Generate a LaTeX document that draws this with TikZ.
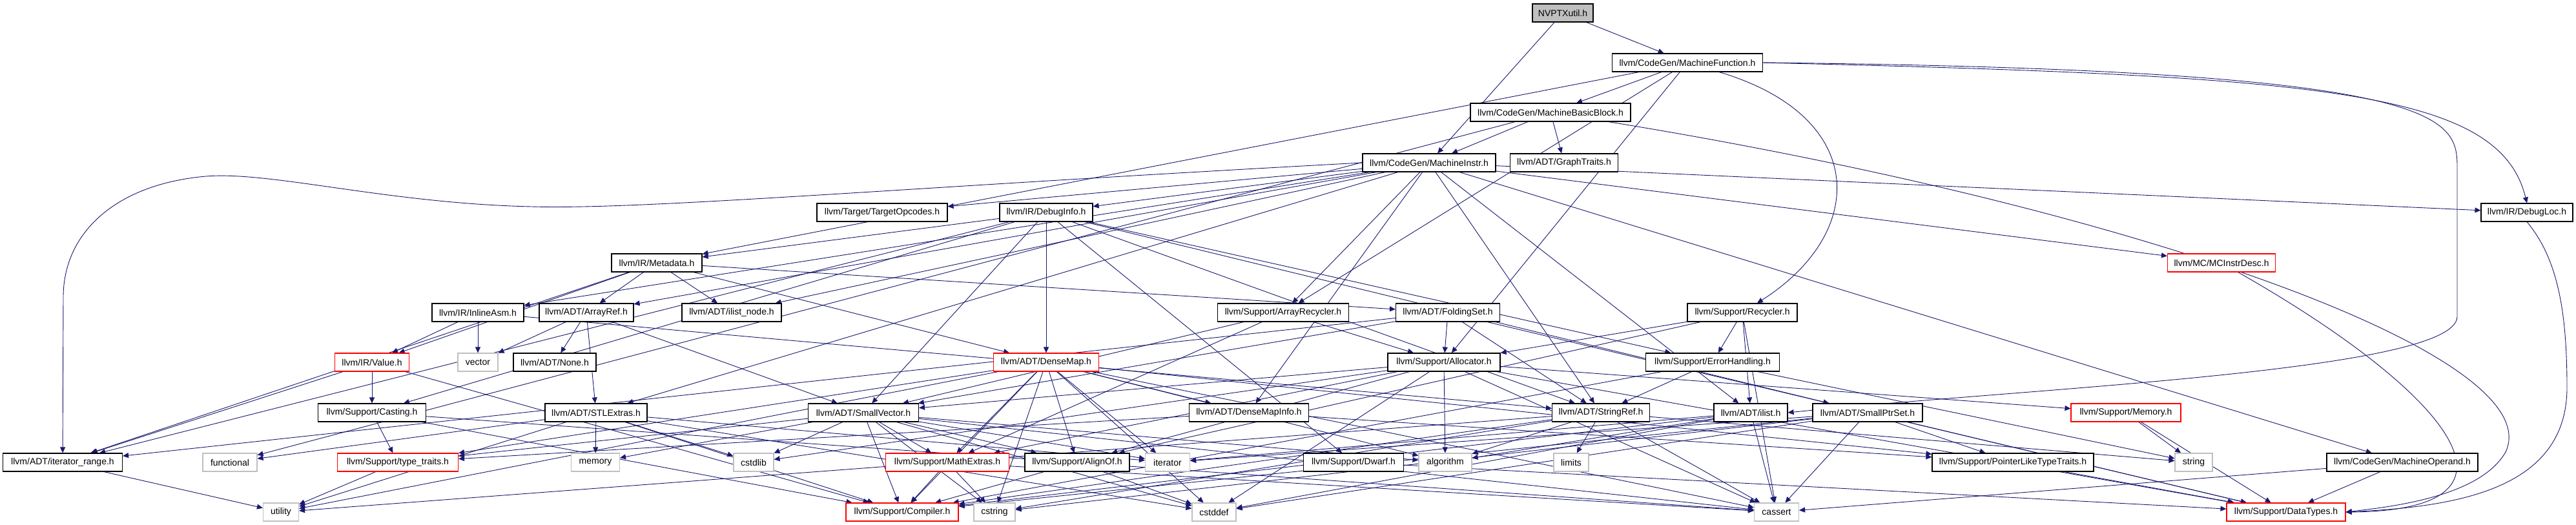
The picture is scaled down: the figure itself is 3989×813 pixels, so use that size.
\documentclass[tikz,border=0pt]{standalone}
\usepackage{fontspec}
\setmainfont{Liberation Sans}
\usetikzlibrary{arrows.meta,backgrounds}
\definecolor{dxedge}{HTML}{191970}
\definecolor{dxgrey}{HTML}{BFBFBF}
\definecolor{dxred}{HTML}{FF0000}
\tikzset{
  hdr/.style       = {draw=black, fill=white, line width=1.1pt, inner sep=0pt,
                      minimum height=28pt, font=\fontsize{14}{16}\selectfont},
  truncated/.style = {hdr, draw=dxred},
  sysinc/.style    = {hdr, draw=dxgrey},
  root/.style      = {hdr, fill=dxgrey},
  %
  incl/.style      = {-{Triangle[length=9pt,width=8pt]}, draw=dxedge,
                      line width=0.9pt},
}

\begin{document}
\begin{tikzpicture}[x=1pt, y=-1pt]
  \useasboundingbox (0,0) rectangle (3989,813);

  % ---- rank 0 .. 3 -------------------------------------------------------
  \node[root, minimum width=94]       (nvptx)       at (2420,20)  {NVPTXutil.h};
  \node[hdr, minimum width=233]       (mf)          at (2613,97)  {llvm/CodeGen/MachineFunction.h};
  \node[hdr, minimum width=248]       (mbb)         at (2401,174) {llvm/CodeGen/MachineBasicBlock.h};
  \node[hdr, minimum width=206]       (mi)          at (2213,252) {llvm/CodeGen/MachineInstr.h};
  \node[hdr, minimum width=167]       (graphtraits) at (2422,252) {llvm/ADT/GraphTraits.h};

  % ---- rank 4 .. 5 -------------------------------------------------------
  \node[hdr, minimum width=202]       (targetop)    at (1366,329) {llvm/Target/TargetOpcodes.h};
  \node[hdr, minimum width=144]       (debuginfo)   at (1620,329) {llvm/IR/DebugInfo.h};
  \node[hdr, minimum width=142]       (debugloc)    at (3913,329) {llvm/IR/DebugLoc.h};
  \node[hdr, minimum width=140]       (metadata)    at (1017,407) {llvm/IR/Metadata.h};
  \node[truncated, minimum width=167] (mcinstr)     at (3440,407) {llvm/MC/MCInstrDesc.h};

  % ---- rank 6 ------------------------------------------------------------
  \node[hdr, minimum width=142]       (inlineasm)   at (740,484)  {llvm/IR/InlineAsm.h};
  \node[hdr, minimum width=146]       (arrayref)    at (908,484)  {llvm/ADT/ArrayRef.h};
  \node[hdr, minimum width=154]       (ilistnode)   at (1133,484) {llvm/ADT/ilist\_node.h};
  \node[hdr, minimum width=203]       (arrayrec)    at (1987,484) {llvm/Support/ArrayRecycler.h};
  \node[hdr, minimum width=161]       (folding)     at (2242,484) {llvm/ADT/FoldingSet.h};
  \node[hdr, minimum width=170]       (recycler)    at (2698,484) {llvm/Support/Recycler.h};

  % ---- rank 7 ------------------------------------------------------------
  \node[truncated, minimum width=115] (value)       at (576,561)  {llvm/IR/Value.h};
  \node[sysinc, minimum width=62]     (vector)      at (740,561)  {vector};
  \node[hdr, minimum width=128]       (none)        at (859,561)  {llvm/ADT/None.h};
  \node[truncated, minimum width=163] (densemap)    at (1620,561) {llvm/ADT/DenseMap.h};
  \node[hdr, minimum width=174]       (allocator)   at (2236,561) {llvm/Support/Allocator.h};
  \node[hdr, minimum width=207]       (errorh)      at (2652,561) {llvm/Support/ErrorHandling.h};

  % ---- rank 8 ------------------------------------------------------------
  \node[hdr, minimum width=167]       (casting)     at (576,639)  {llvm/Support/Casting.h};
  \node[hdr, minimum width=158]       (stlextras)   at (923,639)  {llvm/ADT/STLExtras.h};
  \node[hdr, minimum width=171]       (smallvec)    at (1337,639) {llvm/ADT/SmallVector.h};
  \node[hdr, minimum width=185]       (densemapinfo) at (1934,639) {llvm/ADT/DenseMapInfo.h};
  \node[hdr, minimum width=151]       (stringref)   at (2479,639) {llvm/ADT/StringRef.h};
  \node[hdr, minimum width=114]       (ilist)       at (2711,639) {llvm/ADT/ilist.h};
  \node[hdr, minimum width=170]       (smallptr)    at (2892,639) {llvm/ADT/SmallPtrSet.h};
  \node[truncated, minimum width=170] (memoryh)     at (3292,639) {llvm/Support/Memory.h};

  % ---- rank 9 ------------------------------------------------------------
  \node[hdr, minimum width=185]       (iterrange)   at (97,716)   {llvm/ADT/iterator\_range.h};
  \node[sysinc, minimum width=84]     (functional)  at (356,716)  {functional};
  \node[truncated, minimum width=187] (typetraits)  at (616,716)  {llvm/Support/type\_traits.h};
  \node[sysinc, minimum width=75]     (memory)      at (922,716)  {memory};
  \node[sysinc, minimum width=62]     (cstdlib)     at (1167,716) {cstdlib};
  \node[truncated, minimum width=191] (mathext)     at (1467,716) {llvm/Support/MathExtras.h};
  \node[hdr, minimum width=162]       (alignof)     at (1668,716) {llvm/Support/AlignOf.h};
  \node[sysinc, minimum width=69]     (iterator)    at (1808,716) {iterator};
  \node[hdr, minimum width=155]       (dwarf)       at (2096,716) {llvm/Support/Dwarf.h};
  \node[sysinc, minimum width=82]     (algorithm)   at (2238,716) {algorithm};
  \node[sysinc, minimum width=54]     (limits)      at (2433,716) {limits};
  \node[hdr, minimum width=250]       (pointerlike) at (3117,716) {llvm/Support/PointerLikeTypeTraits.h};
  \node[sysinc, minimum width=58]     (string)      at (3397,716) {string};
  \node[hdr, minimum width=234]       (machop)      at (3720,716) {llvm/CodeGen/MachineOperand.h};

  % ---- rank 10 -----------------------------------------------------------
  \node[sysinc, minimum width=55]     (utility)     at (435,793)  {utility};
  \node[truncated, minimum width=174] (compiler)    at (1397,793) {llvm/Support/Compiler.h};
  \node[sysinc, minimum width=64]     (cstring)     at (1540,793) {cstring};
  \node[sysinc, minimum width=68]     (cstddef)     at (1880,793) {cstddef};
  \node[sysinc, minimum width=69]     (cassert)     at (2751,793) {cassert};
  \node[truncated, minimum width=184] (datatypes)   at (3540,793) {llvm/Support/DataTypes.h};

  % ---- include edges -----------------------------------------------------
  \begin{scope}[on background layer]
    \foreach \t in {mf,mi} \draw[incl] (nvptx) -- (\t);
    \foreach \t in {mbb,metadata,allocator,arrayrec} \draw[incl] (mf) -- (\t);
    \foreach \t in {mi,graphtraits,functional} \draw[incl] (mbb) -- (\t);
    \foreach \t in {targetop,debuginfo,debugloc,mcinstr,machop,inlineasm,arrayref,
                    ilistnode,stlextras,densemapinfo,arrayrec,stringref,ilist}
      \draw[incl] (mi) -- (\t);
    \foreach \t in {metadata,iterrange,casting,smallvec,densemap,dwarf,smallptr,
                    stringref,errorh}
      \draw[incl] (debuginfo) -- (\t);
    \foreach \t in {arrayref,ilistnode,value,iterrange,densemap,folding}
      \draw[incl] (metadata) -- (\t);
    \foreach \t in {value,vector,stringref} \draw[incl] (inlineasm) -- (\t);
    \foreach \t in {vector,none,stlextras,smallvec} \draw[incl] (arrayref) -- (\t);
    \foreach \t in {casting,iterrange,compiler} \draw[incl] (value) -- (\t);
    \foreach \t in {typetraits,compiler,cassert} \draw[incl] (casting) -- (\t);
    \draw[incl] (typetraits) -- (utility);
    \draw[incl] (iterrange) -- (utility);
    \foreach \t in {functional,utility,memory,cstdlib,cstddef,compiler,iterator}
      \draw[incl] (stlextras) -- (\t);
    \foreach \t in {alignof,compiler,mathext,typetraits,algorithm,cassert,cstddef,
                    cstdlib,cstring,iterator,memory}
      \draw[incl] (smallvec) -- (\t);
    \foreach \t in {densemapinfo,alignof,compiler,mathext,pointerlike,typetraits,
                    algorithm,cassert,cstddef,cstring,iterator,utility}
      \draw[incl] (densemap) -- (\t);
    \foreach \t in {pointerlike,typetraits} \draw[incl] (densemapinfo) -- (\t);
    \foreach \t in {smallvec,allocator,mathext} \draw[incl] (arrayrec) -- (\t);
    \foreach \t in {smallvec,stringref,iterrange,allocator,datatypes}
      \draw[incl] (folding) -- (\t);
    \foreach \t in {ilist,alignof,allocator,errorh,cassert} \draw[incl] (recycler) -- (\t);
    \foreach \t in {smallvec,alignof,datatypes,mathext,memoryh,algorithm,cassert,
                    cstddef,cstdlib}
      \draw[incl] (allocator) -- (\t);
    \foreach \t in {stringref,compiler,string} \draw[incl] (errorh) -- (\t);
    \foreach \t in {algorithm,limits,cassert,string,cstring,compiler,utility}
      \draw[incl] (stringref) -- (\t);
    \foreach \t in {algorithm,cassert,cstddef,iterator,compiler} \draw[incl] (ilist) -- (\t);
    \foreach \t in {compiler,datatypes,pointerlike,cassert,cstddef,cstring,iterator}
      \draw[incl] (smallptr) -- (\t);
    \draw[incl] (dwarf) -- (datatypes);
    \foreach \t in {compiler,cstring,cassert} \draw[incl] (mathext) -- (\t);
    \foreach \t in {compiler,cstddef} \draw[incl] (alignof) -- (\t);
    \foreach \t in {datatypes,string} \draw[incl] (memoryh) -- (\t);
    \draw[incl] (pointerlike) -- (datatypes);
    \foreach \t in {datatypes,cassert} \draw[incl] (machop) -- (\t);

    % long edges routed round the graph
    \draw[incl] (mf.east) .. controls (3600,118) and (3870,140) .. (debugloc.north);
    \draw[incl] (mf.east) .. controls (3790,108) and (3805,180) .. (3805,260)
      -- (3805,490) .. controls (3805,575) and (3150,600) .. (ilist.east);
    \draw[incl] (mf) .. controls (2893,180) and (2893,360) .. (recycler);
    \draw[incl] (mi.west) .. controls (1400,290) and (1000,325) .. (823,320)
      .. controls (600,315) and (420,265) .. (319,273)
      .. controls (180,285) and (98,360) .. (98,460) -- (iterrange);
    \draw[incl] (mbb) .. controls (3300,320) and (3950,550) .. (3880,700)
      .. controls (3840,770) and (3700,785) .. (datatypes.east);
    \draw[incl] (debugloc.south) .. controls (3960,400) and (3975,480) .. (3975,600)
      .. controls (3975,760) and (3800,785) .. (datatypes.east);
    \draw[incl] (mcinstr) .. controls (3780,600) and (3950,790) .. (datatypes.east);
  \end{scope}

\end{tikzpicture}
\end{document}
